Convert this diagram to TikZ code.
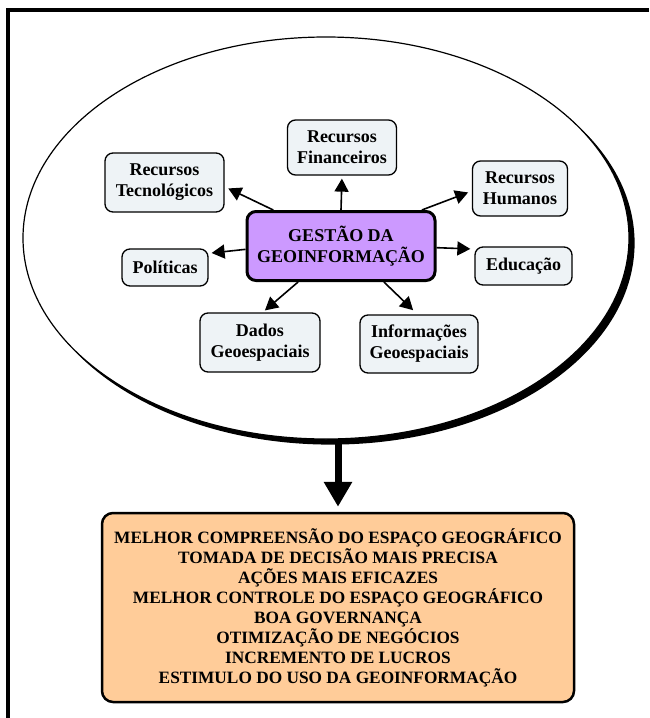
\documentclass[tikz,border=0pt]{standalone}
\usepackage{fontspec}
\setmainfont{Liberation Serif}
\usetikzlibrary{arrows.meta,shapes.geometric}
\definecolor{boxfill}{RGB}{238,243,246}
\definecolor{corefill}{RGB}{204,153,255}
\definecolor{resfill}{RGB}{255,204,153}
\begin{document}
\begin{tikzpicture}[x=1pt,y=-1pt,
  item/.style={draw=black, line width=1.3pt, rounded corners=8pt, fill=boxfill,
    align=center, inner sep=2pt, font=\bfseries\fontsize{18}{21}\selectfont},
  core/.style={draw=black, line width=3pt, rounded corners=9pt, fill=corefill,
    align=center, inner sep=2pt, font=\bfseries\fontsize{18}{21}\selectfont},
  result/.style={draw=black, line width=2.5pt, rounded corners=11pt, fill=resfill,
    align=center, inner sep=2pt, font=\bfseries\fontsize{17.3}{20}\selectfont},
  link/.style={line width=1.6pt, -{Triangle[length=13pt,width=14pt]}},
  bigarrow/.style={line width=7pt, -{Triangle[length=25pt,width=27pt]}}
]
\useasboundingbox (0,0) rectangle (649,718);

% frame: top and left edges only
\fill[black] (6,8.3) rectangle (649,12.3);
\fill[black] (6,8.3) rectangle (10,718);

% ellipse: a black copy shifted down-right acts as its shadow
\fill[black] (331,243) ellipse [x radius=303.6pt, y radius=201.6pt];
\node[ellipse, draw=black, line width=1.2pt, fill=white, inner sep=0pt,
  minimum width=606pt, minimum height=402pt] (circ) at (326,238) {};

% central concept
\node[core, minimum width=188pt, minimum height=69pt] (g) at (341,246)
  {GESTÃO DA\\GEOINFORMAÇÃO};

% surrounding concepts
\node[item, minimum width=109pt, minimum height=55pt] (fin) at (342,147.5) {Recursos\\Financeiros};
\node[item, minimum width=119pt, minimum height=59pt] (tec) at (164.5,182.5) {Recursos\\Tecnológicos};
\node[item, minimum width=95pt, minimum height=55pt] (hum) at (520,188.5) {Recursos\\Humanos};
\node[item, minimum width=86pt, minimum height=37pt] (pol) at (165,267.5) {Políticas};
\node[item, minimum width=97pt, minimum height=38pt] (edu) at (523.5,266) {Educação};
\node[item, minimum width=120pt, minimum height=59pt] (dad) at (260,342.5) {Dados\\Geoespaciais};
\node[item, minimum width=118pt, minimum height=58pt] (inf) at (419,344) {Informações\\Geoespaciais};

% links
\draw[link, shorten >=3pt] (g.north) -- (fin.south);
\draw[link, shorten >=4pt] (g.152) -- (tec.-4);
\draw[link, shorten >=4pt] (g.24) -- (hum.-177);
\draw[link, shorten >=3pt] (g.182) -- (pol.18);
\draw[link, shorten >=4pt] (g.-1) -- (edu.161);
\draw[link, shorten >=3pt] (g.-140) -- (dad.85);
\draw[link, shorten >=6pt] (g.-40) -- (inf.93);

% results
\node[result, minimum width=472pt, minimum height=189pt] (res) at (338,607.5)
  {MELHOR COMPREENSÃO DO ESPAÇO GEOGRÁFICO\\
   TOMADA DE DECISÃO MAIS PRECISA\\
   AÇÕES MAIS EFICAZES\\
   MELHOR CONTROLE DO ESPAÇO GEOGRÁFICO\\
   BOA GOVERNANÇA\\
   OTIMIZAÇÃO DE NEGÓCIOS\\
   INCREMENTO DE LUCROS\\
   ESTIMULO DO USO DA GEOINFORMAÇÃO};

\draw[bigarrow, shorten >=5pt] ([yshift=-4pt]res.north |- circ.south) -- (res.north);
\end{tikzpicture}
\end{document}
